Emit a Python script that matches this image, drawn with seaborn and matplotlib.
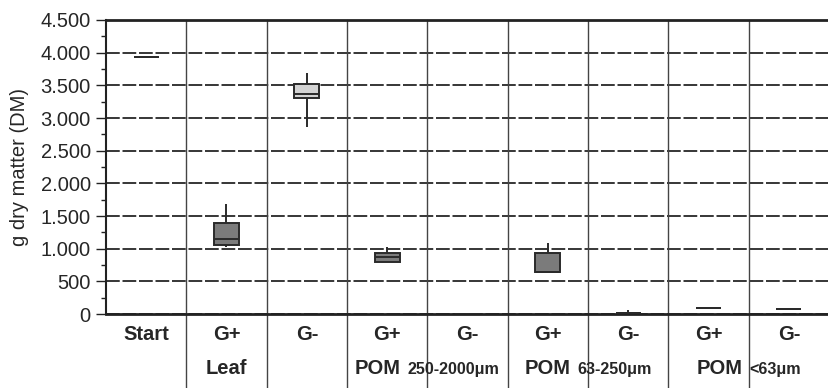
import numpy as np
import pandas as pd
import matplotlib
matplotlib.use("Agg")
import matplotlib.pyplot as plt
import seaborn as sns
from matplotlib.ticker import MultipleLocator, FuncFormatter
from matplotlib.offsetbox import TextArea, HPacker, AnnotationBbox

sns.set_style("white")
plt.rcParams['font.family'] = ['Liberation Sans', 'DejaVu Sans']

# five-number summaries (min, q1, median, q3, max)
groups = ["Start", "Leaf G+", "Leaf G-", "POM250 G+", "POM250 G-",
          "POM63 G+", "POM63 G-", "POMfine G+", "POMfine G-"]
tick_labels = ["Start", "G+", "G-", "G+", "G-", "G+", "G-", "G+", "G-"]
start = [3930, 3930, 3930, 3930, 3930]
leaf_gp = [1021, 1057, 1144, 1398, 1685]
leaf_gm = [2864, 3302, 3364, 3522, 3690]
pom250_gp = [801, 801, 868, 929, 1031]
pom250_gm = [5, 5, 5, 5, 5]
pom63_gp = [638, 648, 648, 939, 1082]
pom63_gm = [18, 18, 20, 22, 55]
pomfine_gp = [86, 86, 87, 88, 88]
pomfine_gm = [81, 81, 82, 83, 83]
colors = ["#7b7b7b", "#7b7b7b", "#d3d3d3", "#7b7b7b", "#7b7b7b",
          "#7b7b7b", "#7b7b7b", "#7b7b7b", "#7b7b7b"]

values = [start, leaf_gp, leaf_gm, pom250_gp, pom250_gm,
          pom63_gp, pom63_gm, pomfine_gp, pomfine_gm]
df = pd.DataFrame({
    "group": np.repeat(groups, 5),
    "dm": np.concatenate(values),
})

FS = 14.5

fig = plt.figure(figsize=(8.29, 3.88), dpi=100)
ax = fig.add_axes([106 / 829, 74 / 388, 723 / 829, 294 / 388])

sns.boxplot(data=df, x="group", y="dm", hue="group", order=groups,
            palette=dict(zip(groups, colors)), legend=False,
            whis=(0, 100), width=0.31, showcaps=False, fliersize=0,
            linecolor="#2a2a2a", linewidth=1.4, ax=ax, zorder=3)

ax.set_xlim(-0.5, len(groups) - 0.5)
ax.set_ylim(0, 4500)
ax.yaxis.set_major_locator(MultipleLocator(500))
ax.yaxis.set_minor_locator(MultipleLocator(250))
ax.yaxis.set_major_formatter(FuncFormatter(lambda v, p: f"{v:,.0f}".replace(",", ".")))
ax.tick_params(axis="y", which="major", left=True, length=7, width=1, pad=4,
               labelsize=FS, color="#222")
ax.tick_params(axis="y", which="minor", left=True, length=3.5, width=1, color="#222")
ax.yaxis.grid(True, which="major", color="black", linewidth=1.1,
              linestyle=(0, (9, 1.8)))
ax.set_axisbelow(True)

ax.set_xticks(range(len(groups)))
ax.set_xticklabels(tick_labels, fontweight="bold", fontsize=FS)
ax.tick_params(axis="x", length=0, pad=8)
ax.set_xlabel("")
ax.set_ylabel("g dry matter (DM)", fontsize=FS, labelpad=8)

for s in ["top", "bottom"]:
    ax.spines[s].set_linewidth(2)
    ax.spines[s].set_color("#222")
ax.spines["left"].set_linewidth(1.5)
ax.spines["left"].set_color("#222")
ax.spines["right"].set_visible(False)

# column separators running down into the label area
for b in np.arange(0.5, len(groups) - 0.5, 1):
    ax.axvline(b, ymin=-0.26, ymax=1, color="#444", linewidth=1,
               clip_on=False, zorder=1)

# second row of labels
ax.text(1, -0.185, "Leaf", transform=ax.get_xaxis_transform(),
        ha="center", va="center", fontweight="bold", fontsize=FS)
pom_sizes = [("250-2000μm", 3.5), ("63-250μm", 5.5), ("<63μm", 7.5)]
for suffix, xc in pom_sizes:
    box = HPacker(children=[
        TextArea("POM", textprops=dict(fontweight="bold", fontsize=FS)),
        TextArea(suffix, textprops=dict(fontweight="bold", fontsize=FS * 0.8)),
    ], align="baseline", pad=0, sep=5)
    ab = AnnotationBbox(box, (xc, -0.185), xycoords=ax.get_xaxis_transform(),
                        frameon=False, box_alignment=(0.5, 0.5),
                        annotation_clip=False)
    ax.add_artist(ab)

fig.savefig("out.png", dpi=100)
